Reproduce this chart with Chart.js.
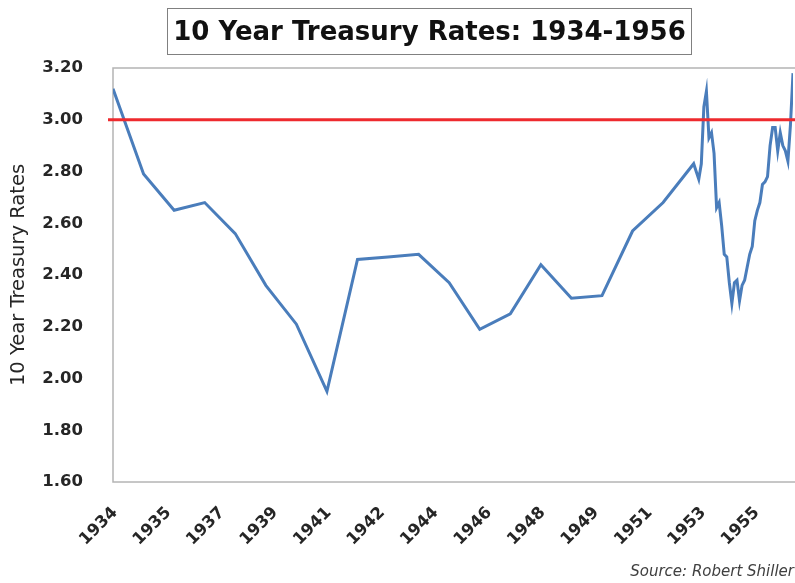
<!DOCTYPE html>
<html><head><meta charset="utf-8">
<script src="https://cdn.jsdelivr.net/npm/chart.js@4.4.1/dist/chart.umd.min.js"></script>
<style>
html,body{margin:0;padding:0;background:#fff;}
#wrap{position:relative;width:795px;height:583px;overflow:hidden;}
#title{position:absolute;left:167px;top:8px;width:525px;height:47px;box-sizing:border-box;border:1.5px solid #808080;
 font:bold 26px "DejaVu Sans",sans-serif;color:#111;text-align:center;line-height:44px;white-space:nowrap;}
#source{position:absolute;right:1px;top:562px;font:italic 15px "DejaVu Sans",sans-serif;color:#404040;white-space:nowrap;}
</style>
</head><body>
<div id="wrap">
<canvas id="c" width="795" height="583"></canvas>
<div id="title">10 Year Treasury Rates: 1934-1956</div>
<div id="source">Source: Robert Shiller</div>
</div>
<script>
// Annual values (January of each year), 1934-1952
const startYear = 1934;
const annualYears = [1934,1935,1936,1937,1938,1939,1940,1941,1942,1943,1944,1945,1946,1947,1948,1949,1950,1951,1952];
const annualRates = [3.12,2.79,2.65,2.68,2.56,2.36,2.21,1.95,2.46,2.47,2.48,2.37,2.19,2.25,2.44,2.31,2.32,2.57,2.68];
// Monthly values from January 1953 to April 1956
const monthlyStartYear = 1953;
const monthlyRates = [
  2.83,2.80,2.77,2.83,3.05,3.11,2.93,2.95,2.87,2.66,2.68,2.59,
  2.48,2.47,2.37,2.29,2.37,2.38,2.30,2.36,2.38,2.43,2.48,2.51,
  2.61,2.65,2.68,2.75,2.76,2.78,2.90,2.97,2.97,2.88,2.95,2.90,
  2.88,2.84,2.98,3.18
];
const xTickMonths = [0,21,42,63,84,105,126,147,168,189,210,231,252];
const xTickLabels = ['1934','1935','1937','1939','1941','1942','1944','1946','1948','1949','1951','1953','1955'];
const yMin = 1.6, yMax = 3.2, yStep = 0.2;
const threshold = 3.00;

const points = annualYears.map((yr,i)=>({x:(yr-startYear)*12, y:annualRates[i]}))
  .concat(monthlyRates.map((v,j)=>({x:(monthlyStartYear-startYear)*12+j, y:v})));
const xMax = points[points.length-1].x;

const framePlugin = {
  id:'frame',
  beforeDatasetsDraw(chart){
    const a = chart.chartArea, ctx = chart.ctx;
    ctx.save();
    ctx.strokeStyle = '#b4b4b4'; ctx.lineWidth = 1.5;
    ctx.strokeRect(a.left, a.top, a.right - a.left + 4, a.bottom - a.top);
    ctx.restore();
  },
  afterDatasetsDraw(chart){
    const a = chart.chartArea, ctx = chart.ctx;
    const y = chart.scales.y.getPixelForValue(threshold);
    ctx.save();
    ctx.strokeStyle = '#ee2a2e'; ctx.lineWidth = 3;
    ctx.beginPath(); ctx.moveTo(a.left - 5, y); ctx.lineTo(a.right + 4, y); ctx.stroke();
    ctx.restore();
  }
};

new Chart(document.getElementById('c'), {
  type:'line',
  data:{ datasets:[{ data:points, borderColor:'#4a7dbb', borderWidth:3, pointRadius:0, tension:0, fill:false }]},
  options:{
    responsive:false, animation:false,
    layout:{ padding:{ top:68, right:2, bottom:21, left:0 } },
    plugins:{ legend:{display:false}, tooltip:{enabled:false} },
    scales:{
      x:{
        type:'linear', min:0, max:xMax,
        grid:{display:false, drawTicks:false}, border:{display:false},
        afterBuildTicks(s){ s.ticks = xTickMonths.map(v=>({value:v})); },
        afterFit(s){ s.height = 80; },
        ticks:{ autoSkip:false, minRotation:45, maxRotation:45, padding:21, labelOffset:2, color:'#262626',
          font:{family:'DejaVu Sans', weight:'bold', size:16.5},
          callback:(v)=>xTickLabels[xTickMonths.indexOf(v)] }
      },
      y:{
        min:yMin, max:yMax,
        grid:{display:false, drawTicks:false}, border:{display:false},
        afterFit(s){ s.width = 113; },
        ticks:{ stepSize:yStep, padding:30, color:'#262626',
          font:{family:'DejaVu Sans', weight:'bold', size:16.5},
          callback:(v)=>Number(v).toFixed(2) },
        title:{ display:true, text:'10 Year Treasury Rates', color:'#262626', padding:{top:7,bottom:0},
          font:{family:'DejaVu Sans', size:19.5} }
      }
    }
  },
  plugins:[framePlugin]
});
</script>
</body></html>
